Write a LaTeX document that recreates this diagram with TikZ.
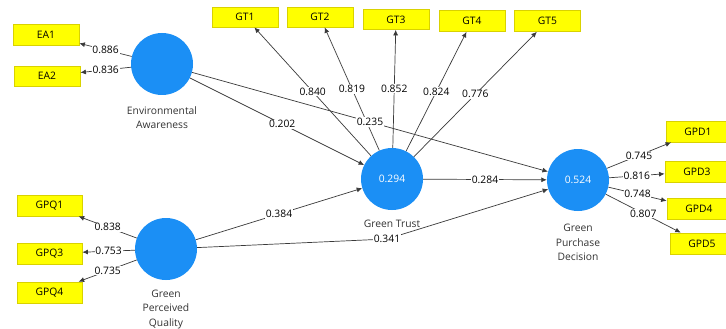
\documentclass[tikz,border=0pt]{standalone}
\usepackage{fontspec}
\setmainfont{Open Sans}
\usetikzlibrary{arrows.meta}
\definecolor{lvblue}{HTML}{1B8FF5}
\definecolor{boxfill}{HTML}{FFFF00}
\definecolor{boxedge}{HTML}{D9D200}
\definecolor{linegray}{HTML}{3A3A3A}
\definecolor{capgray}{HTML}{333333}
\begin{document}
\begin{tikzpicture}[x=1pt,y=-1pt,
  font=\fontsize{10.3}{12}\selectfont,
  latent/.style={circle,fill=lvblue,minimum size=62pt,inner sep=0pt,text=white},
  indicator/.style={rectangle,fill=boxfill,draw=boxedge,line width=0.8pt,
    minimum width=66pt,minimum height=21pt,inner sep=0pt,text=black},
  rel/.style={draw=linegray,line width=0.7pt,-{Latex[length=5.5pt,width=5pt]}},
  coef/.style={fill=white,inner sep=0.8pt,text=black},
  caption/.style={align=center,text=capgray,
    font=\fontsize{10.3}{14.5}\selectfont}]
\clip (0,0) rectangle (726,329);
\fill[white] (0,0) rectangle (726,329);

% latent variables
\node[latent] (ea)  at (162,64)  {};
\node[latent] (gt)  at (392,179) {0.294};
\node[latent] (gpd) at (578,180) {0.524};
\node[latent] (gpq) at (166,249) {};

% captions under the latent variables
\node[caption] (eacap)  at (162,117.5) {Environmental\\Awareness};
\node[caption] (gtcap)  at (392,224)   {Green Trust};
\node[caption] (gpdcap) at (578,242.5) {Green\\Purchase\\Decision};
\node[caption] (gpqcap) at (166,309.5) {Green\\Perceived\\Quality};

% indicators
\node[indicator] (ea1) at (46,35)   {EA1};
\node[indicator,minimum height=20pt] (ea2) at (47,76) {EA2};
\node[indicator,minimum height=20pt] (gt1) at (245,17)   {GT1};
\node[indicator,minimum height=20pt] (gt2) at (320,17)   {GT2};
\node[indicator,minimum height=20pt] (gt3) at (396,19.5) {GT3};
\node[indicator] (gt4) at (472,21)   {GT4};
\node[indicator] (gt5) at (547.5,21) {GT5};
\node[indicator,minimum width=64pt] (gpd1) at (698,131.5) {GPD1};
\node[indicator,minimum width=64pt] (gpd3) at (697,171.5) {GPD3};
\node[indicator,minimum width=64pt] (gpd4) at (699,208.5) {GPD4};
\node[indicator,minimum width=64pt] (gpd5) at (702,243.5) {GPD5};
\node[indicator,minimum width=65pt] (gpq1) at (49.5,205.5) {GPQ1};
\node[indicator,minimum width=65pt] (gpq3) at (49.5,253.5) {GPQ3};
\node[indicator,minimum width=65pt] (gpq4) at (49.5,292.5) {GPQ4};

% outer loadings
\draw[rel] (ea) -- node[coef] {0.886} (ea1);
\draw[rel] (ea) -- node[coef] {0.836} (ea2);
\draw[rel] (gt) -- node[coef] {0.840} (gt1);
\draw[rel] (gt) -- node[coef] {0.819} (gt2);
\draw[rel] (gt) -- node[coef] {0.852} (gt3);
\draw[rel] (gt) -- node[coef] {0.824} (gt4);
\draw[rel] (gt) -- node[coef] {0.776} (gt5);
\draw[rel] (gpd) -- node[coef] {0.745} (gpd1);
\draw[rel] (gpd) -- node[coef] {0.816} (gpd3);
\draw[rel] (gpd) -- node[coef] {0.748} (gpd4);
\draw[rel] (gpd) -- node[coef] {0.807} (gpd5);
\draw[rel] (gpq) -- node[coef] {0.838} (gpq1);
\draw[rel] (gpq) -- node[coef] {0.753} (gpq3);
\draw[rel] (gpq) -- node[coef] {0.735} (gpq4);

% path coefficients
\draw[rel] (ea) -- node[coef,pos=0.53] {0.202} (gt);
\draw[rel] (ea) -- node[coef] {0.235} (gpd);
\draw[rel] (gpq) -- node[coef] {0.384} (gt);
\draw[rel] (gt) -- node[coef] {0.284} (gpd);
\coordinate (bend) at (387,239);
\draw[rel] (gpq) -- (bend) -- (gpd);
\node[coef] (c341) at (bend) {0.341};
\end{tikzpicture}
\end{document}
